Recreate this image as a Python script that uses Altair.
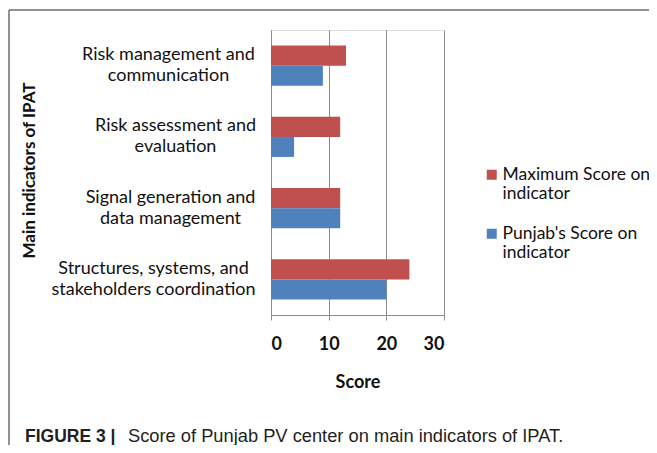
import altair as alt
import pandas as pd

categories = [
    "Risk management and communication",
    "Risk assessment and evaluation",
    "Signal generation and data management",
    "Structures, systems, and stakeholders coordination",
]
series_names = ["Maximum Score on indicator", "Punjab's Score on indicator"]
max_scores = [13, 12, 12, 24]
punjab_scores = [9, 4, 12, 20]
x_ticks = [0, 10, 20, 30]
colors = ["#C0504D", "#4F81BD"]

rows = []
for c, m, p in zip(categories, max_scores, punjab_scores):
    rows.append({"indicator": c, "series": series_names[0], "score": m})
    rows.append({"indicator": c, "series": series_names[1], "score": p})
df = pd.DataFrame(rows)

FONT = "Lato"

pad_expr = (
    "datum.value == 'Structures, systems, and stakeholders coordination' ? 118 : "
    "datum.value == 'Risk assessment and evaluation' ? 96 : "
    "datum.value == 'Signal generation and data management' ? 101 : 103"
)

bars = alt.Chart(df).mark_bar().encode(
    y=alt.Y(
        "indicator:N",
        sort=categories,
        scale=alt.Scale(paddingInner=0.437, paddingOuter=0.2185),
        axis=alt.Axis(
            title="Main indicators of IPAT",
            labelExpr="[slice(datum.label, 0, indexof(datum.label, ' and ') + 4), slice(datum.label, indexof(datum.label, ' and ') + 5)]",
            labelAlign="center",
            labelBaseline="middle",
            labelPadding=alt.ExprRef(expr=pad_expr),
            labelOffset=-10.5,
            labelLineHeight=21,
            labelLimit=400,
            labelFont=FONT,
            labelFontSize=18,
            labelColor="#111111",
            ticks=False,
            domainColor="#8c8c8c",
            titleFont=FONT,
            titleFontSize=17,
            titleFontWeight="bold",
            titleColor="#111111",
            titleX=-242,
            titleY=140,
            titleAngle=-90,
            titleAlign="center",
            titleBaseline="middle",
        ),
    ),
    yOffset=alt.YOffset("series:N", sort=series_names),
    x=alt.X(
        "score:Q",
        scale=alt.Scale(domain=[0, 30], nice=False),
        axis=alt.Axis(
            values=x_ticks,
            title="Score",
            grid=True,
            gridColor="#8c8c8c",
            domainColor="#8c8c8c",
            tickColor="#8c8c8c",
            tickSize=5,
            labelFont=FONT,
            labelFontSize=18,
            labelFontWeight="bold",
            labelColor="#111111",
            labelPadding=15,
            titleFont=FONT,
            titleFontSize=18,
            titleFontWeight="bold",
            titleColor="#111111",
            titleY=67,
            titleBaseline="middle",
        ),
    ),
    color=alt.Color(
        "series:N",
        sort=series_names,
        scale=alt.Scale(domain=series_names, range=colors),
        legend=alt.Legend(
            title=None,
            orient="none",
            legendX=212,
            legendY=136,
            symbolType="square",
            symbolSize=100,
            symbolStrokeWidth=0,
            labelExpr="[slice(datum.label, 0, lastindexof(datum.label, ' ')), slice(datum.label, lastindexof(datum.label, ' ') + 1)]",
            labelFont=FONT,
            labelFontSize=17.5,
            labelColor="#111111",
            labelLimit=400,
            labelBaseline="middle",
            labelOffset=2,
            rowPadding=21,
            padding=0,
        ),
    ),
)

cap_df = pd.DataFrame({"a": [0]})
cap_bold = alt.Chart(cap_df).mark_text(
    text="FIGURE 3 |", font="Liberation Sans", fontSize=17.5, fontWeight="bold",
    align="left", baseline="middle", color="#231f20",
).encode(x=alt.value(-246), y=alt.value(407))
cap_rest = alt.Chart(cap_df).mark_text(
    text="Score of Punjab PV center on main indicators of IPAT.", font="Liberation Sans",
    fontSize=18.3, align="left", baseline="middle", color="#231f20",
).encode(x=alt.value(-143), y=alt.value(407))

frame_top = alt.Chart(cap_df).mark_rule(color="#6e6e6e", strokeWidth=1.5).encode(
    x=alt.value(-262), x2=alt.value(390), y=alt.value(-20)
)
frame_left = alt.Chart(cap_df).mark_rule(color="#6e6e6e", strokeWidth=1.5).encode(
    x=alt.value(-262), y=alt.value(-20), y2=alt.value(430)
)

chart = alt.layer(bars, cap_bold, cap_rest, frame_top, frame_left).properties(
    width=173,
    height=285,
    autosize=alt.AutoSizeParams(type="none"),
    padding={"left": 263, "top": 22, "right": 205, "bottom": 130},
).configure_view(stroke=None).configure(background="white")

chart.save("out.html", embed_options={"renderer": "svg", "actions": False})
